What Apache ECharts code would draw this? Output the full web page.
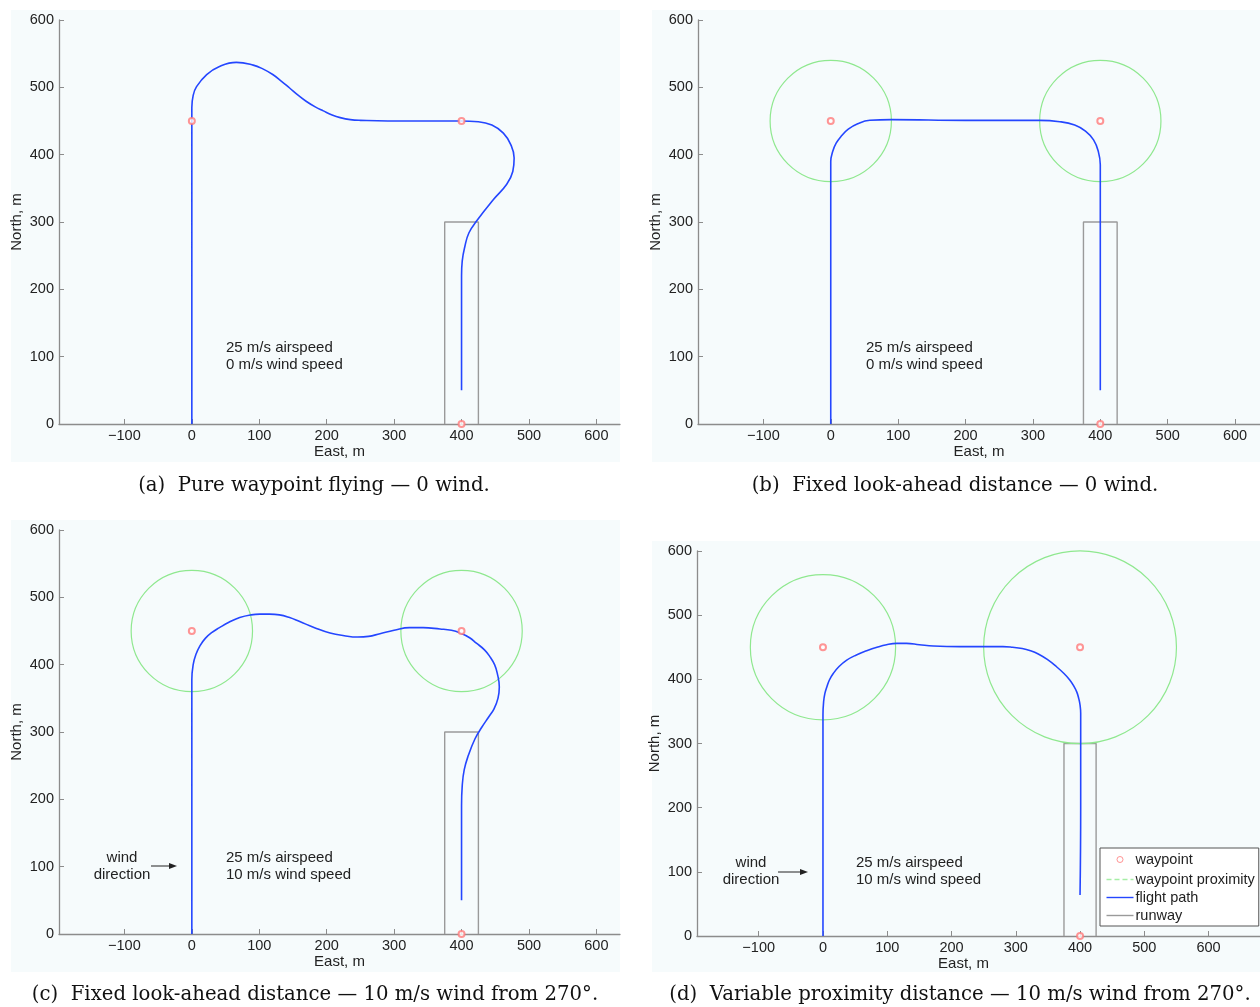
<!DOCTYPE html>
<html><head><meta charset="utf-8">
<script src="https://cdn.jsdelivr.net/npm/echarts@6/dist/echarts.min.js"></script>
<style>html,body{margin:0;padding:0;background:#fff}#c{width:1260px;height:1007px}</style>
</head><body><div id="c"></div>
<script>
// ---- data ----
const xTickValues = [-100, 0, 100, 200, 300, 400, 500, 600];
const waypoints = [[0, 450], [400, 450], [400, 0]];
const runway = [[375, 0], [375, 300], [425, 300], [425, 0]];
const circlesB = [[0, 450, 90], [400, 450, 90]];
const circlesC = [[0, 450, 90], [400, 450, 90]];
const circlesD = [[0, 450, 113], [400, 450, 150]];
const pathA = [[0,0],[0,200],[0,400],[0,470],[2,488],[7,501],[22,519],[41,531],[66,537],[91,533],[106,527],[120,519],[133,509],[145,499],[158,488],[170,479],[183,471],[195,465],[208,459],[220,455],[235,452],[250,451],[320,450],[398,450],[425,449],[445,444],[462,432],[473,415],[478,395],[476,375],[467,356],[447,333],[422,301],[411,284],[405,264],[401,242],[400,220],[400,150],[400,50]];
const pathB = [[0,0],[0,200],[0,390],[3,405],[8,417],[16,428],[26,438],[40,446],[58,451],[90,452],[200,451],[310,451],[340,449],[362,444],[378,435],[390,422],[397,405],[400,385],[400,362],[400,200],[400,50]];
const pathC = [[0,0],[0,200],[0,378],[2,400],[6,415],[12,428],[20,439],[30,448],[41,455],[55,463],[71,470],[88,474],[101,475],[115,475],[130,474],[145,470],[160,464],[182,455],[205,447],[226,443],[246,441],[262,442],[279,446],[300,451],[323,455],[343,455],[368,453],[385,451],[398,447],[412,440],[422,432],[434,422],[442,412],[449,400],[453,387],[456,367],[454,350],[448,334],[440,322],[430,307],[420,290],[410,265],[404,244],[401,220],[400,190],[400,150],[400,50]];
const pathD = [[0,0],[0,200],[0,305],[0,345],[1,365],[3,378],[6,388],[10,399],[16,409],[25,420],[37,430],[52,438],[68,444.5],[84,450],[99,454],[115,456],[130,456],[150,454],[172,452],[213,451],[260,451],[280,451],[295,450],[310,448],[323,444.5],[335,439.5],[349,431],[363,420],[375,409],[384,399],[390,390],[395,380],[398,370],[400,360],[401,347],[401,305],[401,200],[400,64]];
const paths = [pathA, pathB, pathC, pathD];
const circles = [null, circlesB, circlesC, circlesD];
const xRanges = [[-197, 635], [-197, 637], [-197, 635], [-196, 680]];
const notesTop = ['25 m/s airspeed', '25 m/s airspeed', '25 m/s airspeed', '25 m/s airspeed'];
const notesBottom = ['0 m/s wind speed', '0 m/s wind speed', '10 m/s wind speed', '10 m/s wind speed'];
const captions = [
  '(a)  Pure waypoint flying \u2014 0 wind.',
  '(b)  Fixed look-ahead distance \u2014 0 wind.',
  '(c)  Fixed look-ahead distance \u2014 10 m/s wind from 270\u00b0.',
  '(d)  Variable proximity distance \u2014 10 m/s wind from 270\u00b0.'
];

// ---- layout ----
const SANS = '"Liberation Sans", Arial, sans-serif';
const SERIF = '"DejaVu Serif", "Liberation Serif", serif';
const AXC = '#8c8c8c';
const TXT = '#222';
const BLUE = '#2446ff';
const GREEN = '#8fe88f';
const RED = '#ff7a7a';
const GRAY = '#9a9a9a';
const grids = [
  {left: 59, top: 20, width: 561, height: 404},
  {left: 698, top: 20, width: 562, height: 404},
  {left: 59, top: 530, width: 561, height: 404},
  {left: 697, top: 551, width: 563, height: 385}
];
const bgs = [[11, 10, 609, 452], [652, 10, 608, 452], [11, 520, 609, 452], [652, 541, 608, 431]];
const notePos = [[226, 348], [866, 348], [226, 858], [856, 863]];
const windPos = [null, null, [122, 858, 151, 177, 866], [751, 863, 778, 808, 872]];
const capPos = [[314, 486], [955, 486], [315, 995], [960, 995]];

const chart = echarts.init(document.getElementById('c'));
const xAxes = [], yAxes = [], series = [];
grids.forEach((g, i) => {
  xAxes.push({
    gridIndex: i, type: 'value', min: xRanges[i][0], max: xRanges[i][1],
    name: 'East, m', nameLocation: 'middle', nameGap: 19,
    nameTextStyle: {fontFamily: SANS, fontSize: 15, color: TXT, padding: i === 3 ? [0, 30, 0, 0] : 0},
    axisLine: {onZero: false, lineStyle: {color: AXC, width: 1.3}},
    axisTick: {inside: true, length: 5, customValues: xTickValues, lineStyle: {color: AXC}},
    axisLabel: {customValues: xTickValues, margin: 4, fontFamily: SANS, fontSize: 14.5, color: TXT,
      formatter: v => String(v).replace('-', '\u2212')},
    splitLine: {show: false}
  });
  yAxes.push({
    gridIndex: i, type: 'value', min: 0, max: 600, interval: 100,
    name: 'North, m', nameLocation: 'middle', nameGap: 35,
    nameTextStyle: {fontFamily: SANS, fontSize: 15, color: TXT},
    axisLine: {show: true, onZero: false, lineStyle: {color: AXC, width: 1.3}},
    axisTick: {show: true, inside: true, length: 5, lineStyle: {color: AXC}},
    axisLabel: {margin: 5, fontFamily: SANS, fontSize: 14.5, color: TXT},
    splitLine: {show: false}
  });
  series.push({
    name: 'runway', type: 'line', xAxisIndex: i, yAxisIndex: i, data: runway,
    symbol: 'none', silent: true, itemStyle: {color: GRAY}, lineStyle: {color: GRAY, width: 1.4}, z: 2
  });
  if (circles[i]) {
    series.push({
      name: 'waypoint proximity', type: 'custom', xAxisIndex: i, yAxisIndex: i,
      data: circles[i], encode: {x: 0, y: 1}, silent: true, clip: false, z: 3,
      itemStyle: {color: GREEN},
      renderItem: (params, api) => {
        const c = api.coord([api.value(0), api.value(1)]);
        const s = api.size([api.value(2), api.value(2)]);
        return {type: 'circle', shape: {cx: c[0], cy: c[1], r: s[0]},
          style: {fill: 'none', stroke: GREEN, lineWidth: 1.2}};
      }
    });
  }
  series.push({
    name: 'flight path', type: 'line', xAxisIndex: i, yAxisIndex: i, data: paths[i],
    symbol: 'none', smooth: 0.45, silent: true, itemStyle: {color: BLUE}, lineStyle: {color: BLUE, width: 1.6}, z: 4
  });
  series.push({
    name: 'waypoint', type: 'scatter', xAxisIndex: i, yAxisIndex: i, data: waypoints,
    symbol: 'emptyCircle', symbolSize: 6, silent: true, z: 5,
    itemStyle: {color: RED, borderColor: RED, borderWidth: 1}
  });
});

const elements = [];
bgs.forEach(b => elements.push({type: 'rect', z: -100, silent: true,
  shape: {x: b[0], y: b[1], width: b[2], height: b[3]}, style: {fill: '#f6fbfc'}}));
notePos.forEach((p, i) => {
  elements.push({type: 'text', x: p[0], y: p[1], z: 10,
    style: {text: notesTop[i], font: '15px ' + SANS, fill: TXT, align: 'left', verticalAlign: 'middle'}});
  elements.push({type: 'text', x: p[0], y: p[1] + 17, z: 10,
    style: {text: notesBottom[i], font: '15px ' + SANS, fill: TXT, align: 'left', verticalAlign: 'middle'}});
});
windPos.forEach(w => {
  if (!w) return;
  elements.push({type: 'text', x: w[0], y: w[1], z: 10,
    style: {text: 'wind', font: '15px ' + SANS, fill: TXT, align: 'center', verticalAlign: 'middle'}});
  elements.push({type: 'text', x: w[0], y: w[1] + 17, z: 10,
    style: {text: 'direction', font: '15px ' + SANS, fill: TXT, align: 'center', verticalAlign: 'middle'}});
  elements.push({type: 'line', z: 10, shape: {x1: w[2], y1: w[4], x2: w[3] - 6, y2: w[4]},
    style: {stroke: '#222', lineWidth: 1}});
  elements.push({type: 'polygon', z: 10, shape: {points: [[w[3], w[4]], [w[3] - 8, w[4] - 3], [w[3] - 8, w[4] + 3]]},
    style: {fill: '#222'}});
});
capPos.forEach((p, i) => elements.push({type: 'text', x: p[0], y: p[1], z: 10,
  style: {text: captions[i], font: '19.7px ' + SERIF, fill: '#111', align: 'center', verticalAlign: 'middle'}}));

const lineIcon = 'path://M0,0M27,14M0,6.3L27,6.3L27,7.7L0,7.7Z';
chart.setOption({
  backgroundColor: '#ffffff',
  animation: false,
  grid: grids,
  xAxis: xAxes,
  yAxis: yAxes,
  legend: {
    orient: 'vertical', left: 1100, top: 848, itemWidth: 27, itemHeight: 14, itemGap: 3,
    padding: [2, 4, 3, 4], borderColor: '#555', borderWidth: 1, backgroundColor: '#ffffff',
    selectedMode: false, z: 20,
    textStyle: {fontFamily: SANS, fontSize: 14.5, color: TXT, padding: [0, 0, 0, -3]},
    data: [
      {name: 'waypoint', icon: 'path://M0,0M27,14M16.5,7A3,3,0,1,1,10.5,7A3,3,0,1,1,16.5,7Z',
        itemStyle: {color: 'none', borderColor: RED, borderWidth: 1}},
      {name: 'waypoint proximity',
        icon: 'path://M0,0M27,14M0,6.3L5,6.3L5,7.7L0,7.7Z M8,6.3L13,6.3L13,7.7L8,7.7Z M16,6.3L21,6.3L21,7.7L16,7.7Z M24,6.3L27,6.3L27,7.7L24,7.7Z',
        itemStyle: {color: '#a6eea6', borderWidth: 0}},
      {name: 'flight path', icon: lineIcon, itemStyle: {color: BLUE, borderWidth: 0}},
      {name: 'runway', icon: lineIcon, itemStyle: {color: GRAY, borderWidth: 0}}
    ]
  },
  graphic: {elements: elements},
  series: series
});
</script></body></html>
